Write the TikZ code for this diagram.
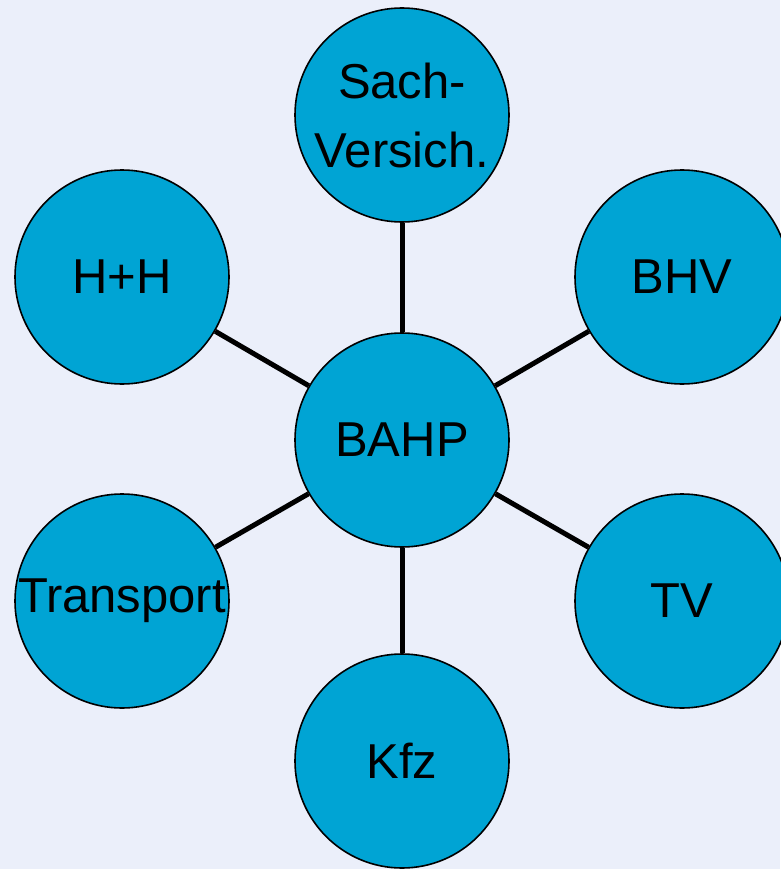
\documentclass[tikz,border=0pt]{standalone}
\usepackage{fontspec}
\setmainfont{Liberation Sans}
\usetikzlibrary{positioning}
\definecolor{bgblue}{RGB}{235,239,250}
\definecolor{bubble}{RGB}{0,164,212}

\begin{document}
\begin{tikzpicture}[
        x=1pt, y=-1pt,
        bub/.style={circle, draw=black, line width=1.6pt, fill=bubble, minimum size=214pt,
                    inner sep=0pt, align=center, font=\fontsize{49}{69}\selectfont},
        link/.style={line width=5pt, draw=black}
      ]
      \fill[bgblue] (0,0) rectangle (780,869);
      \useasboundingbox (0,0) rectangle (780,869);
      \node[bub] (bahp) at (402,440) {BAHP};
      \node[bub] (sach) at (402,115) {Sach-\\Versich.};
      \node[bub] (hh)   at (122,277) {H+H};
      \node[bub] (bhv)  at (682,277) {BHV};
      \node[bub] (trans) at (122,601) {Transport};
      \node[bub] (tv)   at (682,601) {TV};
      \node[bub] (kfz)  at (402,761) {Kfz};
      % spokes
      \draw[link] (bahp) -- (sach);
      \draw[link] (bahp) -- (hh);
      \draw[link] (bahp) -- (bhv);
      \draw[link] (bahp) -- (trans);
      \draw[link] (bahp) -- (tv);
      \draw[link] (bahp) -- (kfz);
    \end{tikzpicture}
\end{document}
